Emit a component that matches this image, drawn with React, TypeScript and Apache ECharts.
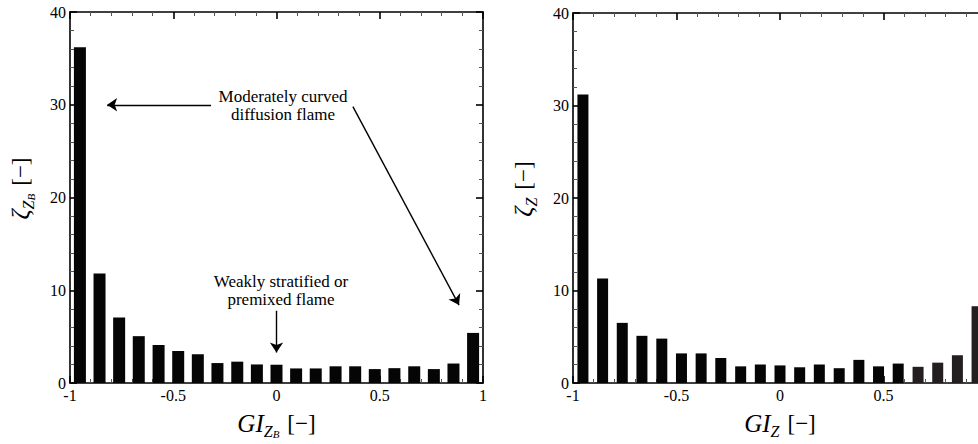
import React, { useEffect, useRef } from "react";
import * as echarts from "echarts";

// Bin centres of the 21 histogram bins on GI in [-1, 1]
const binCenters = [
  -0.952, -0.857, -0.762, -0.667, -0.571, -0.476, -0.381, -0.286, -0.19, -0.095, 0,
  0.095, 0.19, 0.286, 0.381, 0.476, 0.571, 0.667, 0.762, 0.857, 0.952,
];

// Left panel: zeta_{Z_B}
const leftValues = [
  36.2, 11.8, 7.05, 5.05, 4.1, 3.45, 3.1, 2.15, 2.3, 2.0, 1.97,
  1.57, 1.57, 1.8, 1.8, 1.5, 1.6, 1.8, 1.5, 2.1, 5.4,
];

// Right panel: zeta_Z
const rightValues = [
  31.2, 11.3, 6.5, 5.1, 4.8, 3.2, 3.2, 2.7, 1.8, 2.0, 1.9,
  1.7, 2.0, 1.6, 2.5, 1.8, 2.1, 1.75, 2.2, 3.0, 8.3,
];

// Annotation arrows in data coordinates of the left panel: [from, to]
const arrowFrom = [
  [-0.317, 30],
  [0.37, 29.8],
  [0, 7.8],
];
const arrowTo = [
  [-0.82, 30],
  [0.884, 8.4],
  [0, 3.3],
];

const annotationTexts = ["Moderately curved\ndiffusion flame", "Weakly stratified or\npremixed flame"];

const FONT = "Liberation Serif";

const nameRich = {
  m: { fontFamily: FONT, fontStyle: "italic", fontSize: 25, color: "#000", lineHeight: 32 },
  my: { fontFamily: FONT, fontStyle: "italic", fontSize: 25, color: "#000", lineHeight: 32, padding: [0, 0, 0, 18] },
  s: { fontFamily: FONT, fontStyle: "italic", fontSize: 16, color: "#000", lineHeight: 16, verticalAlign: "bottom" },
  ss: { fontFamily: FONT, fontStyle: "italic", fontSize: 11, color: "#000", lineHeight: 11, verticalAlign: "bottom" },
  n: { fontFamily: FONT, fontSize: 23, color: "#000", lineHeight: 32, padding: [0, 0, 0, 8] },
};

function xAxisDef(grid: number, pos: "top" | "bottom", labels: boolean, name?: string, showMax = true) {
  return {
    type: "value",
    gridIndex: grid,
    position: pos,
    min: -1,
    max: 1,
    interval: 0.5,
    axisLine: { show: true, onZero: false, lineStyle: { color: "#000", width: 1.6 } },
    axisTick: { show: true, inside: true, length: 7, lineStyle: { color: "#000", width: 1.6 } },
    minorTick: { show: true, splitNumber: 5, length: 4, lineStyle: { color: "#555", width: 1 } },
    axisLabel: {
      show: labels,
      margin: 5,
      lineHeight: 14,
      color: "#000",
      fontFamily: FONT,
      fontSize: 16,
      showMinLabel: true,
      showMaxLabel: showMax,
      formatter: (v: number) => (!showMax && v === 1 ? "" : String(v)),
    },
    splitLine: { show: false },
    name: name || "",
    nameLocation: "middle",
    nameGap: 24,
    nameTextStyle: { rich: nameRich },
  };
}

function yAxisDef(grid: number, pos: "left" | "right", labels: boolean, name?: string, gap = 35) {
  return {
    type: "value",
    gridIndex: grid,
    position: pos,
    min: 0,
    max: 40,
    interval: 10,
    axisLine: { show: true, onZero: false, lineStyle: { color: "#000", width: 1.6 } },
    axisTick: { show: true, inside: true, length: 7, lineStyle: { color: "#000", width: 1.6 } },
    minorTick: { show: true, splitNumber: 5, length: 4, lineStyle: { color: "#555", width: 1 } },
    axisLabel: {
      show: labels,
      margin: 4,
      lineHeight: 10,
      color: "#000",
      fontFamily: FONT,
      fontSize: 16,
      showMinLabel: true,
      showMaxLabel: true,
    },
    splitLine: { show: false },
    name: name || "",
    nameLocation: "middle",
    nameRotate: 90,
    nameGap: gap,
    nameTextStyle: { rich: nameRich },
  };
}

export default function App() {
  const ref = useRef<HTMLDivElement>(null);

  useEffect(() => {
    if (!ref.current) return;
    const chart = echarts.init(ref.current, undefined, { renderer: "svg" });

    const leftData = binCenters.map((c, i) => [c, leftValues[i]]);
    const rightData = binCenters.map((c, i) => ({
      value: [c, rightValues[i]],
      itemStyle: { color: i >= 17 ? "#231f20" : "#050505" },
    }));
    const arrows = arrowFrom.map((f, i) => ({ coords: [f, arrowTo[i]] }));

    chart.setOption({
      animation: false,
      backgroundColor: "#fff",
      grid: [
        { left: 70, top: 12, width: 413, height: 373 },
        { left: 573, top: 13, width: 414, height: 373 },
      ],
      xAxis: [
        xAxisDef(0, "bottom", true, "{m|GI}{s|Z}{ss|B}{n|[−]}"),
        xAxisDef(0, "top", false),
        xAxisDef(1, "bottom", true, "{m|GI}{s|Z}{n|[−]}", false),
        xAxisDef(1, "top", false),
      ],
      yAxis: [
        yAxisDef(0, "left", true, "{my|ζ}{s|Z}{ss|B}{n|[−]}", 34),
        yAxisDef(0, "right", false),
        yAxisDef(1, "left", true, "{my|ζ}{s|Z}{n|[−]}", 34),
        yAxisDef(1, "right", false),
      ],
      series: [
        {
          type: "bar",
          xAxisIndex: 0,
          yAxisIndex: 0,
          data: leftData,
          barWidth: 12,
          itemStyle: { color: "#050505" },
        },
        {
          type: "lines",
          coordinateSystem: "cartesian2d",
          xAxisIndex: 0,
          yAxisIndex: 0,
          data: arrows,
          symbol: ["none", "arrow"],
          symbolSize: 10,
          lineStyle: { color: "#000", width: 1.4, opacity: 1 },
          silent: true,
        },
        {
          type: "bar",
          xAxisIndex: 2,
          yAxisIndex: 2,
          data: rightData,
          barWidth: 11,
        },
      ],
      graphic: [
        {
          type: "text",
          x: 283,
          y: 105,
          silent: true,
          style: {
            text: annotationTexts[0],
            align: "center",
            verticalAlign: "middle",
            fontFamily: FONT,
            fontSize: 17,
            lineHeight: 18,
            fill: "#000",
          },
        },
        {
          type: "text",
          x: 281,
          y: 290,
          silent: true,
          style: {
            text: annotationTexts[1],
            align: "center",
            verticalAlign: "middle",
            fontFamily: FONT,
            fontSize: 17,
            lineHeight: 18,
            fill: "#000",
          },
        },
      ],
    });

    return () => chart.dispose();
  }, []);

  return (
    <div
      style={{
        position: "fixed",
        left: 0,
        top: 0,
        width: 978,
        height: 444,
        overflow: "hidden",
        background: "#fff",
      }}
    >
      <div ref={ref} style={{ width: 1000, height: 444 }} />
    </div>
  );
}
